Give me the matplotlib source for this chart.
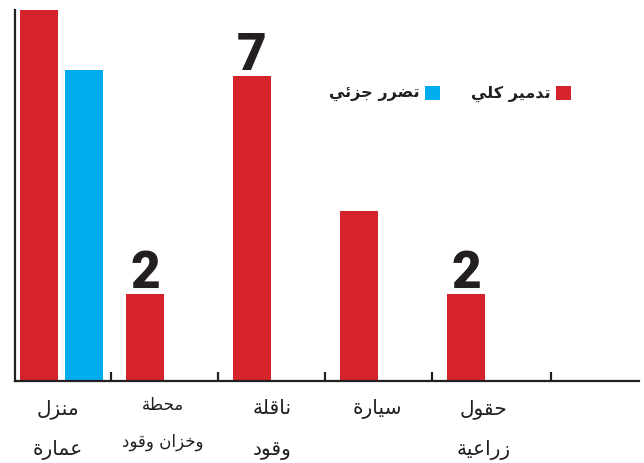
import matplotlib

matplotlib.use("Agg")
import matplotlib.pyplot as plt
import matplotlib.transforms as mtransforms

# data
categories = [
    ["منزل", "عمارة"],
    ["محطة", "وخزان وقود"],
    ["ناقلة", "وقود"],
    ["سيارة"],
    ["حقول", "زراعية"],
]
full_destruction = [8.6, 2, 7, 3.9, 2]
partial_damage = [7.15, 0, 0, 0, 0]
value_labels = ["", "2", "7", "", "2"]
legend_labels = ["تدمير كلي", "تضرر جزئي"]

RED = "#d6232b"
BLUE = "#00aeef"
INK = "#231f20"

# Arabic presentation forms: (isolated, final, initial, medial)
FORMS = {
    "ا": ("\ufe8d", "\ufe8e", None, None),
    "ة": ("\ufe93", "\ufe94", None, None),
    "ت": ("\ufe95", "\ufe96", "\ufe97", "\ufe98"),
    "ج": ("\ufe9d", "\ufe9e", "\ufe9f", "\ufea0"),
    "ح": ("\ufea1", "\ufea2", "\ufea3", "\ufea4"),
    "خ": ("\ufea5", "\ufea6", "\ufea7", "\ufea8"),
    "د": ("\ufea9", "\ufeaa", None, None),
    "ر": ("\ufead", "\ufeae", None, None),
    "ز": ("\ufeaf", "\ufeb0", None, None),
    "س": ("\ufeb1", "\ufeb2", "\ufeb3", "\ufeb4"),
    "ض": ("\ufebd", "\ufebe", "\ufebf", "\ufec0"),
    "ط": ("\ufec1", "\ufec2", "\ufec3", "\ufec4"),
    "ع": ("\ufec9", "\ufeca", "\ufecb", "\ufecc"),
    "ق": ("\ufed5", "\ufed6", "\ufed7", "\ufed8"),
    "ك": ("\ufed9", "\ufeda", "\ufedb", "\ufedc"),
    "ل": ("\ufedd", "\ufede", "\ufedf", "\ufee0"),
    "م": ("\ufee1", "\ufee2", "\ufee3", "\ufee4"),
    "ن": ("\ufee5", "\ufee6", "\ufee7", "\ufee8"),
    "و": ("\ufeed", "\ufeee", None, None),
    "ي": ("\ufef1", "\ufef2", "\ufef3", "\ufef4"),
    "ئ": ("\ufe89", "\ufe8a", "\ufe8b", "\ufe8c"),
}


def shape(text: str) -> str:
    # join letters and flip to visual order, matplotlib has no bidi/shaping
    out = []
    for i, ch in enumerate(text):
        if ch not in FORMS:
            out.append(ch)
            continue
        prev = text[i - 1] if i > 0 else ""
        nxt = text[i + 1] if i + 1 < len(text) else ""
        iso, fin, ini, med = FORMS[ch]
        joins_prev = prev in FORMS and FORMS[prev][2] is not None
        joins_next = nxt in FORMS and ini is not None
        if joins_prev and joins_next:
            out.append(med)
        elif joins_prev:
            out.append(fin)
        elif joins_next:
            out.append(ini)
        else:
            out.append(iso)
    return "".join(reversed(out))


W, H = 644, 463
fig = plt.figure(figsize=(W / 100, H / 100), dpi=100)
ax = fig.add_axes([15 / W, (H - 381) / H, 624 / W, 371 / H])

# slot edges along the axis (one slot = 107 px)
edges = [0, 0.897, 1.897, 2.897, 3.897, 5.009]
bar_w = 0.355
red_left = [0.047] + [e + 0.14 for e in edges[1:5]]
blue_left = [0.467, 0, 0, 0, 0]
label_x = [0.40, 1.385, 2.40, 3.39, 4.38]

red_bars = ax.bar(red_left, full_destruction, width=bar_w, align="edge",
                  color=RED, label=shape(legend_labels[0]))
blue_idx = [i for i, v in enumerate(partial_damage) if v > 0]
blue_bars = ax.bar([blue_left[i] for i in blue_idx], [partial_damage[i] for i in blue_idx],
                   width=bar_w, align="edge", color=BLUE, label=shape(legend_labels[1]))

for i, txt in enumerate(value_labels):
    if not txt:
        continue
    ax.annotate(txt, xy=(red_left[i] + bar_w / 2, full_destruction[i]),
                xytext=(0, 4.5), textcoords="offset points", ha="center", va="baseline",
                fontsize=37, fontweight="black", color=INK,
                family=["Roboto", "DejaVu Sans"])

ax.set_xlim(0, 624 / 107)
ax.set_ylim(0, 371 / 43.5)
ax.set_yticks([])
ax.set_xticks(edges[1:])
ax.set_xticklabels([])
ax.tick_params(axis="x", direction="in", length=6.5, width=1.6, color=INK)
for side in ("top", "right"):
    ax.spines[side].set_visible(False)
for side in ("left", "bottom"):
    ax.spines[side].set_color(INK)
    ax.spines[side].set_linewidth(1.6)

# category labels under the axis
trans = mtransforms.blended_transform_factory(ax.transData, fig.transFigure)
line_y = [1 - 409 / H, 1 - 450 / H]
station_y = [1 - 405 / H, 1 - 442 / H]
for i, lines in enumerate(categories):
    ys = station_y if i == 1 else line_y
    size = 12 if i == 1 else 14.5
    for j, line in enumerate(lines):
        ax.text(label_x[i], ys[j], shape(line), transform=trans, ha="center", va="center",
                fontsize=size, color=INK, family="DejaVu Sans", clip_on=False)

leg = ax.legend(handles=[blue_bars, red_bars], ncol=2, markerfirst=False, frameon=False,
                loc="center", bbox_to_anchor=(450 / W, 1 - 94 / H),
                bbox_transform=fig.transFigure, prop={"family": "DejaVu Sans", "weight": "bold", "size": 11.5},
                handlelength=0.95, handleheight=0.95, handletextpad=0.35, columnspacing=1.9)
for t in leg.get_texts():
    t.set_color(INK)

fig.savefig("out.png", dpi=100)
